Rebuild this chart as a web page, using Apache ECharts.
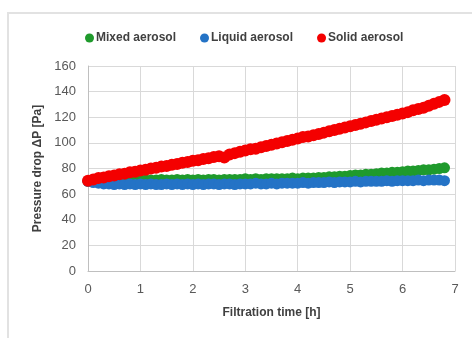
<!DOCTYPE html>
<html>
<head>
<meta charset="utf-8">
<script src="https://cdn.jsdelivr.net/npm/echarts@6/dist/echarts.min.js"></script>
<style>
  html, body { margin: 0; padding: 0; background: #fff; }
  #frame { position: absolute; left: 7px; top: 12px; width: 470px; height: 330px;
           border-top: 2px solid #e2e2e2; border-left: 2px solid #e2e2e2; }
  #chart { position: absolute; left: 0; top: 0; width: 472px; height: 338px; }
</style>
</head>
<body>
<div id="frame"></div>
<div id="chart"></div>
<script>
// sampling times [h]
var hours = [
  0.0, 0.1, 0.2, 0.3, 0.4, 0.5, 0.6, 0.7, 0.8, 0.9, 1.0,
  1.1, 1.2, 1.3, 1.4, 1.5, 1.6, 1.7, 1.8, 1.9, 2.0,
  2.1, 2.2, 2.3, 2.4, 2.5, 2.6, 2.7, 2.8, 2.9, 3.0,
  3.1, 3.2, 3.3, 3.4, 3.5, 3.6, 3.7, 3.8, 3.9, 4.0,
  4.1, 4.2, 4.3, 4.4, 4.5, 4.6, 4.7, 4.8, 4.9, 5.0,
  5.1, 5.2, 5.3, 5.4, 5.5, 5.6, 5.7, 5.8, 5.9, 6.0,
  6.1, 6.2, 6.3, 6.4, 6.5, 6.6, 6.7, 6.8
];

// pressure drop [Pa]
var mixed = [
  70, 70, 70.5, 70.5, 70.5, 71, 71, 70.5, 71, 71, 71,
  71, 71, 71, 71.5, 71, 71, 71.5, 71, 71.5, 71,
  71.5, 71, 71.5, 71.5, 71, 71.5, 71.5, 71.5, 71.5, 72,
  71.5, 72, 71.5, 72, 72, 72, 72, 72, 72.5, 72,
  72.5, 72.5, 72.5, 73, 73, 73.5, 73.5, 74, 74, 74.5,
  75, 75, 75.5, 75.5, 76, 76.5, 76.5, 77, 77, 77.5,
  78, 78, 78.5, 79, 79, 79.5, 80, 80.5
];
var liquid = [
  70, 69, 68.5, 68, 68, 67.5, 68, 67.5, 68, 67.5, 68,
  67.5, 68, 67.5, 67.5, 68, 67.5, 68, 67.5, 68, 67.5,
  68, 67.5, 68, 68, 67.5, 68, 68, 67.5, 68, 68,
  68, 68.5, 68, 68, 68.5, 68, 68.5, 68.5, 68.5, 68.5,
  69, 68.5, 69, 69, 69, 69.5, 69, 69.5, 69.5, 69.5,
  70, 69.5, 70, 70, 70, 70, 70.5, 70, 70.5, 70.5,
  70.5, 70.5, 71, 70.5, 71, 71, 71, 70.5
];
var solid = [
  70.5, 71.5, 72.5, 73, 74, 74.5, 75.5, 76, 77, 77.5, 78.5,
  79, 80, 80.5, 81.5, 82, 83, 83.5, 84.5, 85, 86,
  86.5, 87.5, 88, 89, 89.5, 88.5, 91, 92, 93, 94,
  95, 95.5, 96.5, 97.5, 98.5, 99.5, 100.5, 101.5, 102.5, 103.5,
  104.5, 105, 106, 107, 108, 109, 110, 111, 112, 113,
  114, 115, 116, 117, 118, 119, 120, 121, 122, 123,
  124, 125.5, 126.5, 127.5, 129, 130.5, 132, 133.5
];

var seriesNames = ['Mixed aerosol', 'Liquid aerosol', 'Solid aerosol'];
var seriesColors = ['#1f9a2c', '#2473c6', '#f40000'];

function pairs(ys) {
  return hours.map(function (h, i) { return [h, ys[i]]; });
}

var chart = echarts.init(document.getElementById('chart'));
var textFont = '"Liberation Sans", Arial, sans-serif';

chart.setOption({
  animation: false,
  textStyle: { fontFamily: textFont },
  legend: {
    data: seriesNames,
    top: 27,
    left: 80,
    itemWidth: 9,
    itemHeight: 9,
    itemGap: 24,
    icon: 'circle',
    selectedMode: false,
    textStyle: { fontSize: 12, fontWeight: 'bold', color: '#404040', fontFamily: textFont, padding: [0, 0, 0, -3] }
  },
  grid: { left: 88, right: 17, top: 66, bottom: 67 },
  xAxis: {
    type: 'value',
    min: 0, max: 7, interval: 1,
    name: 'Filtration time [h]',
    nameLocation: 'middle',
    nameGap: 36,
    nameTextStyle: { fontSize: 12, fontWeight: 'bold', color: '#404040' },
    axisLine: { lineStyle: { color: '#bfbfbf', width: 1 } },
    axisTick: { show: false },
    axisLabel: { fontSize: 13, color: '#595959', margin: 12 },
    splitLine: { show: true, lineStyle: { color: '#d9d9d9' } }
  },
  yAxis: {
    type: 'value',
    min: 0, max: 160, interval: 20,
    name: 'Pressure drop ΔP [Pa]',
    nameLocation: 'middle',
    nameGap: 44,
    nameTextStyle: { fontSize: 12, fontWeight: 'bold', color: '#404040' },
    axisLine: { show: true, lineStyle: { color: '#bfbfbf', width: 1 } },
    axisTick: { show: false },
    axisLabel: { fontSize: 13, color: '#595959', margin: 12 },
    splitLine: { show: true, lineStyle: { color: '#d9d9d9' } }
  },
  series: [
    {
      name: seriesNames[0], type: 'scatter', symbolSize: 11,
      itemStyle: { color: seriesColors[0], opacity: 1 }, data: pairs(mixed)
    },
    {
      name: seriesNames[1], type: 'scatter', symbolSize: 11,
      itemStyle: { color: seriesColors[1], opacity: 1 }, data: pairs(liquid)
    },
    {
      name: seriesNames[2], type: 'scatter', symbolSize: 12,
      itemStyle: { color: seriesColors[2], opacity: 1 }, data: pairs(solid)
    }
  ]
});
</script>
</body>
</html>
